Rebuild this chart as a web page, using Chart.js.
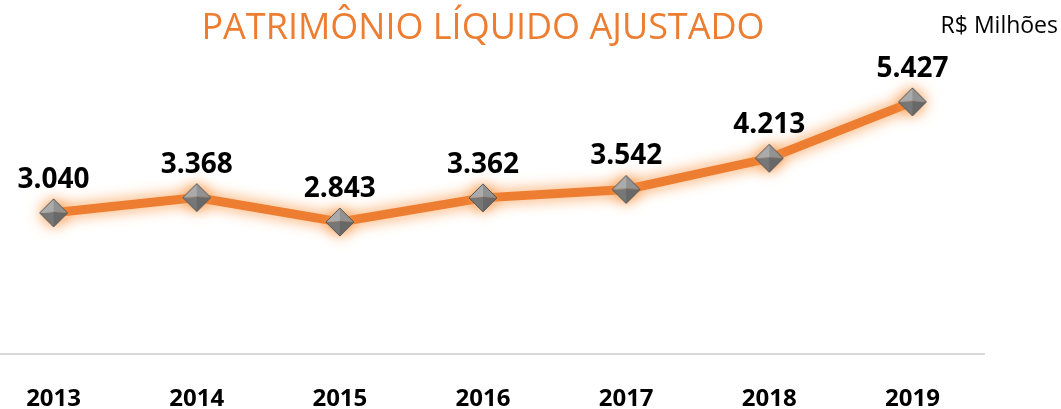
<!DOCTYPE html>
<html>
<head>
<meta charset="utf-8">
<script src="https://cdn.jsdelivr.net/npm/chart.js@4/dist/chart.umd.min.js"></script>
<style>
  html, body { margin: 0; padding: 0; background: #fff; overflow: hidden; }
  .wrap { position: absolute; left: -41px; top: 0; width: 1102px; height: 445px; }
</style>
</head>
<body>
<div class="wrap"><canvas id="plChart"></canvas></div>
<script>
const years = ["2013", "2014", "2015", "2016", "2017", "2018", "2019"];
const patrimonio = [3040, 3368, 2843, 3362, 3542, 4213, 5427];
const titleText = "PATRIMÔNIO LÍQUIDO AJUSTADO";
const unitText = "R$ Milhões";

const orange = "#ED7D31";

// 3040 -> "3.040"
function fmt(v) {
  return String(v).replace(/\B(?=(\d{3})+(?!\d))/g, ".");
}

// gray bevelled diamond used as the marker
function makeMarker() {
  const s = 30;
  const c = document.createElement("canvas");
  c.width = s;
  c.height = s;
  const g = c.getContext("2d");
  const m = s / 2;
  const r = 14;
  const cx = m, cy = m - 1;
  const top = [m, m - r], right = [m + r, m], bottom = [m, m + r], left = [m - r, m];
  const faces = [
    [top, right, "#929292"],
    [right, bottom, "#686868"],
    [bottom, left, "#777777"],
    [left, top, "#ababab"],
  ];
  faces.forEach((f) => {
    g.beginPath();
    g.moveTo(f[0][0], f[0][1]);
    g.lineTo(f[1][0], f[1][1]);
    g.lineTo(cx, cy);
    g.closePath();
    g.fillStyle = f[2];
    g.fill();
  });
  g.beginPath();
  g.moveTo(top[0], top[1]);
  g.lineTo(right[0], right[1]);
  g.lineTo(bottom[0], bottom[1]);
  g.lineTo(left[0], left[1]);
  g.closePath();
  g.strokeStyle = "#555555";
  g.lineWidth = 1;
  g.stroke();
  return c;
}

const glow = {
  id: "glow",
  beforeDatasetDraw(chart) {
    const ctx = chart.ctx;
    ctx.save();
    ctx.shadowColor = "rgba(248, 145, 60, 1)";
    ctx.shadowBlur = 15;
  },
  afterDatasetDraw(chart) {
    chart.ctx.restore();
  },
};

const valueLabels = {
  id: "valueLabels",
  afterDatasetsDraw(chart) {
    const ctx = chart.ctx;
    const meta = chart.getDatasetMeta(0);
    ctx.save();
    ctx.font = "bold 28px 'Open Sans'";
    ctx.fillStyle = "#000";
    ctx.textAlign = "center";
    ctx.textBaseline = "alphabetic";
    meta.data.forEach((pt, i) => {
      ctx.fillText(fmt(patrimonio[i]), pt.x, pt.y - 25);
    });
    ctx.font = "23px 'Open Sans'";
    ctx.textAlign = "right";
    ctx.fillText(unitText, chart.width - 3, 33);
    ctx.restore();
  },
};

new Chart(document.querySelector("#plChart"), {
  type: "line",
  data: {
    labels: years,
    datasets: [
      {
        data: patrimonio,
        borderColor: orange,
        borderWidth: 9,
        tension: 0,
        pointStyle: makeMarker(),
        pointRadius: 14,
        pointHoverRadius: 14,
      },
    ],
  },
  options: {
    responsive: true,
    maintainAspectRatio: false,
    animation: false,
    events: [],
    layout: { padding: { left: 0, right: 77, top: 0, bottom: 0 } },
    plugins: {
      legend: { display: false },
      tooltip: { enabled: false },
      title: {
        display: true,
        text: titleText,
        fullSize: false,
        color: orange,
        font: { family: "'Open Sans'", size: 36, weight: "normal" },
        padding: { top: 7, bottom: 25 },
      },
    },
    scales: {
      x: {
        offset: true,
        grid: { display: false, drawTicks: false },
        border: { display: true, color: "#d9d9d9", width: 2 },
        ticks: {
          color: "#000",
          padding: 31,
          font: { family: "'Open Sans'", size: 24, weight: "bold" },
        },
      },
      y: {
        display: false,
        min: 0,
        max: 6000,
      },
    },
  },
  plugins: [glow, valueLabels],
});
</script>
</body>
</html>
